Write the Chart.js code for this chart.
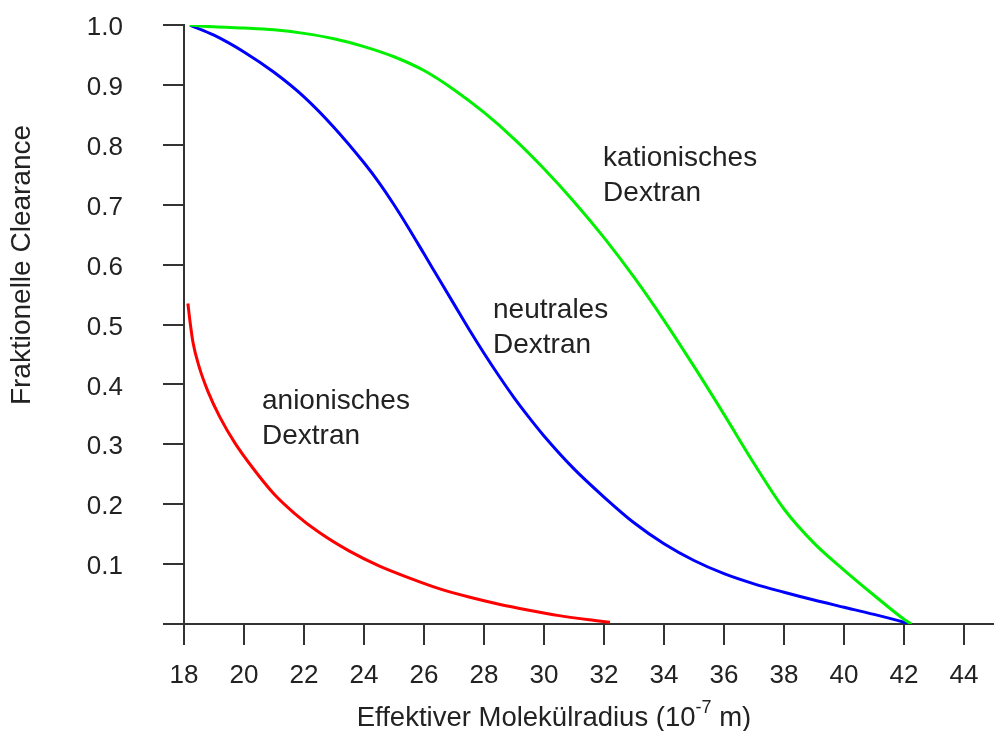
<!DOCTYPE html>
<html>
<head>
<meta charset="utf-8">
<script src="https://cdn.jsdelivr.net/npm/chart.js@4.4.1/dist/chart.umd.min.js"></script>
<style>
  body { margin: 0; background: #fff; }
  #wrap { width: 994px; height: 731px; position: relative; }
</style>
</head>
<body>
<div id="wrap"><canvas id="clearance-chart"></canvas></div>
<script>
// molecular radius (10^-7 m) vs fractional clearance
const kationRadius = [18.2, 19, 20, 21, 22, 23, 24, 25, 26, 27, 28, 29, 30, 31, 32, 33, 34, 35, 36, 37, 38, 39, 40, 41, 42, 42.25];
const kationClear  = [1.0, 0.997, 0.995, 0.992, 0.986, 0.977, 0.964, 0.947, 0.924, 0.892, 0.854, 0.81, 0.76, 0.705, 0.645, 0.579, 0.507, 0.43, 0.35, 0.268, 0.192, 0.135, 0.09, 0.048, 0.008, 0.0];

const neutralRadius = [18.2, 19, 20, 21, 22, 23, 24, 24.5, 25, 25.5, 26, 26.5, 27, 27.5, 28, 28.5, 29, 29.5, 30, 31, 32, 33, 34, 35, 36, 37, 38, 39, 40, 41, 42, 42.2];
const neutralClear  = [1.0, 0.983, 0.955, 0.921, 0.88, 0.829, 0.77, 0.737, 0.70, 0.66, 0.618, 0.576, 0.534, 0.492, 0.452, 0.414, 0.378, 0.345, 0.314, 0.259, 0.212, 0.169, 0.134, 0.106, 0.084, 0.067, 0.053, 0.04, 0.028, 0.016, 0.003, 0.0];

const anionRadius = [18.13, 18.2, 18.3, 18.5, 18.8, 19.2, 19.7, 20.3, 21.0, 21.7, 22.5, 23.5, 24.5, 25.5, 26.5, 27.5, 28.5, 29.5, 30.5, 31.5, 32.2];
const anionClear  = [0.535, 0.505, 0.47, 0.43, 0.388, 0.345, 0.302, 0.26, 0.217, 0.184, 0.153, 0.122, 0.097, 0.077, 0.059, 0.045, 0.033, 0.023, 0.014, 0.007, 0.003];

const seriesNames = ['kationisches Dextran', 'neutrales Dextran', 'anionisches Dextran'];
const xTitle = ['Effektiver Molekülradius (10', '-7', ' m)'];
const yTitle = 'Fraktionelle Clearance';

const FONT = 'Liberation Sans, Arial, sans-serif';
const TEXT = '#222';
const AXIS = '#333';

function toPoints(xs, ys) {
  return xs.map((x, i) => ({ x: x, y: ys[i] }));
}

// curve labels, anchored in data units (first line), drawn on two lines
const curveLabels = [
  { lines: ['kationisches', 'Dextran'], x: 31.97, y: 0.778 },
  { lines: ['neutrales', 'Dextran'], x: 28.3, y: 0.524 },
  { lines: ['anionisches', 'Dextran'], x: 20.6, y: 0.372 },
];

const textPlugin = {
  id: 'texts',
  afterDraw(chart) {
    const { ctx, chartArea, scales } = chart;
    ctx.save();
    ctx.fillStyle = TEXT;
    ctx.font = '28px ' + FONT;
    ctx.textBaseline = 'middle';
    ctx.textAlign = 'left';
    curveLabels.forEach(l => {
      const px = scales.x.getPixelForValue(l.x);
      const py = scales.y.getPixelForValue(l.y);
      l.lines.forEach((t, i) => ctx.fillText(t, px, py + i * 35));
    });

    // x axis title with superscript exponent
    const big = '27.5px ' + FONT, small = '18px ' + FONT;
    ctx.font = big;
    const w0 = ctx.measureText(xTitle[0]).width;
    const w2 = ctx.measureText(xTitle[2]).width;
    ctx.font = small;
    const w1 = ctx.measureText(xTitle[1]).width;
    let tx = chartArea.left + 370 - (w0 + w1 + w2) / 2;
    const ty = chartArea.bottom + 94;
    ctx.font = big;
    ctx.fillText(xTitle[0], tx, ty);
    tx += w0;
    ctx.font = small;
    ctx.fillText(xTitle[1], tx, ty - 10);
    tx += w1;
    ctx.font = big;
    ctx.fillText(xTitle[2], tx, ty);

    // y axis title
    ctx.font = '28px ' + FONT;
    ctx.translate(22, 265);
    ctx.rotate(-Math.PI / 2);
    ctx.textAlign = 'center';
    ctx.fillText(yTitle, 0, 0);
    ctx.restore();
  }
};

const lineStyle = {
  borderWidth: 3,
  pointRadius: 0,
  fill: false,
  cubicInterpolationMode: 'monotone',
};

const ctx = document.getElementById('clearance-chart').getContext('2d');
const clearanceChart = new Chart(ctx, {
  type: 'line',
  data: {
    datasets: [
      { ...lineStyle, label: seriesNames[0], data: toPoints(kationRadius, kationClear), borderColor: '#00f000' },
      { ...lineStyle, label: seriesNames[1], data: toPoints(neutralRadius, neutralClear), borderColor: '#0000ff' },
      { ...lineStyle, label: seriesNames[2], data: toPoints(anionRadius, anionClear), borderColor: '#ff0000' },
    ],
  },
  options: {
    responsive: true,
    maintainAspectRatio: false,
    animation: false,
    layout: { padding: { top: 25, right: 0, bottom: 0, left: 0 } },
    plugins: {
      legend: { display: false },
      tooltip: { enabled: false },
    },
    scales: {
      x: {
        type: 'linear',
        min: 18,
        max: 45,
        border: { color: AXIS, width: 2 },
        grid: { drawOnChartArea: false, tickLength: 21, color: AXIS, lineWidth: 2 },
        ticks: {
          stepSize: 2,
          includeBounds: false,
          autoSkip: false,
          maxRotation: 0,
          padding: 15,
          color: TEXT,
          font: { family: FONT, size: 26 },
        },
        afterFit(scale) {
          scale.height = 107;
          scale.paddingLeft = 0;
          scale.paddingRight = 0;
        },
      },
      y: {
        min: 0,
        max: 1,
        border: { color: AXIS, width: 2 },
        grid: { drawOnChartArea: false, tickLength: 21, color: AXIS, lineWidth: 2 },
        ticks: {
          stepSize: 0.1,
          padding: 40,
          labelOffset: 3,
          color: TEXT,
          font: { family: FONT, size: 26 },
          callback: v => (Math.abs(v) < 1e-9 ? '' : v.toFixed(1)),
        },
        afterFit(scale) {
          scale.width = 184;
          scale.paddingTop = 0;
          scale.paddingBottom = 0;
        },
      },
    },
  },
  plugins: [textPlugin],
});
</script>
</body>
</html>
